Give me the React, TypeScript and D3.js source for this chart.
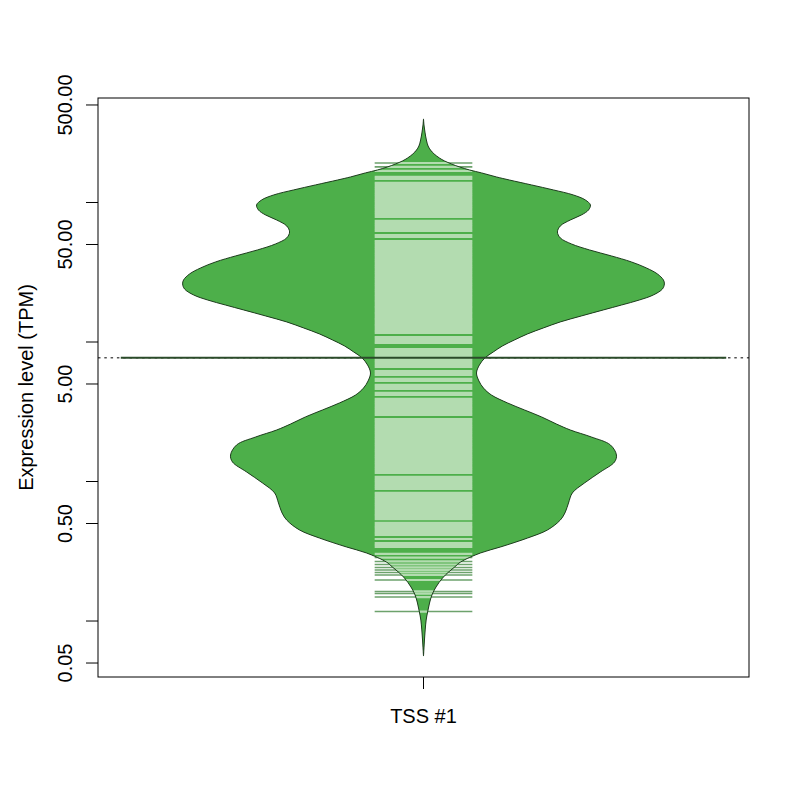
import React from "react";
import * as d3 from "d3";

// ---------- data ----------
const categories = ["TSS #1"];

const yTickValues = [0.05, 0.1, 0.5, 1, 5, 10, 50, 100, 500];
const yTickLabels = ["0.05", "", "0.50", "", "5.00", "", "50.00", "", "500.00"];

// bean outline: log10(TPM) and relative density (1 = widest)
const densityLog10TPM = [
  2.599, 2.556, 2.505, 2.448, 2.405, 2.376, 2.348, 2.319, 2.298, 2.276, 2.255, 2.233, 2.212, 2.183,
  2.161, 2.126, 2.09, 2.054, 2.018, 1.982, 1.946, 1.911, 1.875, 1.832, 1.789, 1.746, 1.703, 1.66,
  1.617, 1.574, 1.531, 1.488, 1.445, 1.416, 1.38, 1.337, 1.301, 1.265, 1.23, 1.187, 1.144, 1.101,
  1.058, 1.015, 0.972, 0.929, 0.886, 0.835, 0.778, 0.721, 0.67, 0.62, 0.563, 0.513, 0.463, 0.412,
  0.369, 0.319, 0.262, 0.19, 0.14, 0.068, -0.011, -0.082, -0.154, -0.218, -0.276, -0.347, -0.405,
  -0.469, -0.512, -0.577, -0.613, -0.649, -0.692, -0.756, -0.813, -0.871, -0.935, -0.993, -1.064,
  -1.136, -1.193, -1.251,
];
const densityRel = [
  0, 0.002, 0.006, 0.012, 0.019, 0.029, 0.044, 0.066, 0.087, 0.116, 0.149, 0.191, 0.241, 0.303,
  0.357, 0.448, 0.539, 0.622, 0.672, 0.693, 0.685, 0.656, 0.61, 0.568, 0.556, 0.568, 0.614, 0.689,
  0.78, 0.863, 0.925, 0.971, 0.996, 1.0, 0.992, 0.954, 0.896, 0.822, 0.747, 0.656, 0.568, 0.498,
  0.432, 0.378, 0.328, 0.29, 0.255, 0.232, 0.22, 0.23, 0.249, 0.282, 0.349, 0.419, 0.49, 0.552,
  0.61, 0.697, 0.776, 0.801, 0.793, 0.734, 0.668, 0.618, 0.602, 0.589, 0.568, 0.515, 0.432,
  0.32, 0.237, 0.154, 0.129, 0.104, 0.079, 0.052, 0.035, 0.025, 0.017, 0.011, 0.007,
  0.004, 0.002, 0,
];

// individual observations (bean lines), log10(TPM)
const beanLinesLog10TPM = [
  2.283, 2.255, 2.226,
  2.183, 2.169, 2.14, 2.126, 2.111, 2.097, 2.083, 2.068, 2.054, 2.04, 2.025, 2.011, 1.997, 1.982,
  1.968, 1.954, 1.939, 1.925, 1.911, 1.896, 1.868, 1.853, 1.839, 1.825, 1.81, 1.796, 1.767, 1.753,
  1.724, 1.71, 1.696, 1.681, 1.667, 1.653, 1.638, 1.624, 1.61, 1.595, 1.581, 1.567, 1.552, 1.538,
  1.524, 1.509, 1.495, 1.481, 1.466, 1.452, 1.438, 1.423, 1.409, 1.395, 1.38, 1.366, 1.352, 1.337,
  1.323, 1.308, 1.294, 1.28, 1.265, 1.251, 1.237, 1.222, 1.208, 1.194, 1.179, 1.165, 1.151, 1.136,
  1.122, 1.108, 1.093, 1.079, 1.065, 1.036, 1.022, 1.007, 0.993, 0.95, 0.936, 0.921, 0.907, 0.893,
  0.878, 0.864, 0.85, 0.835, 0.821, 0.792, 0.778, 0.764, 0.735, 0.721, 0.692, 0.678, 0.663, 0.635,
  0.62, 0.592, 0.577, 0.563, 0.549, 0.534, 0.52, 0.506, 0.491, 0.477, 0.448, 0.434, 0.42, 0.405,
  0.391, 0.377, 0.362, 0.348, 0.334, 0.319, 0.305, 0.291, 0.276, 0.262, 0.248, 0.233, 0.219, 0.205,
  0.19, 0.176, 0.162, 0.147, 0.133, 0.119, 0.104, 0.09, 0.076, 0.061, 0.033, 0.018, 0.004, -0.01,
  -0.025, -0.039, -0.053, -0.082, -0.096, -0.111, -0.125, -0.139, -0.154, -0.168, -0.182, -0.197,
  -0.211, -0.226, -0.24, -0.254, -0.269, -0.297, -0.312, -0.326, -0.34, -0.355, -0.369, -0.383,
  -0.412, -0.441, -0.455, -0.469,
  -0.519, -0.545, -0.573, -0.595, -0.616, -0.634, -0.652, -0.67, -0.706, -0.788, -0.803, -0.828,
  -0.932,
];

const beanMeanTPM = 7.7;
const overallMeanTPM = 7.7;

// ---------- component ----------
export default function App() {
  const W = 800;
  const H = 800;
  const left = 98;
  const right = 749;
  const top = 98;
  const bottom = 677;
  const font = "'Liberation Sans', Arial, Helvetica, sans-serif";
  const fs = 20;

  const x = d3.scaleLinear().domain([0.5, 1.5]).range([left, right]);
  const y = d3.scaleLog().domain([0.0397, 561]).range([bottom, top]);

  const beanHalf = 0.37; // max half width in x units
  const lineHalf = 0.075;
  const meanHalf = 0.465;

  const pts = densityLog10TPM.map((l, i) => ({ v: Math.pow(10, l), d: densityRel[i] }));
  const area = d3
    .area<{ v: number; d: number }>()
    .y((p) => y(p.v))
    .x0((p) => x(1 - p.d * beanHalf))
    .x1((p) => x(1 + p.d * beanHalf))
    .curve(d3.curveCatmullRom.alpha(0.5));
  const beanPath = area(pts) || "";

  const lines = beanLinesLog10TPM.map((l) => Math.pow(10, l));
  const lw = 2.2;

  return (
    <svg
      width={W}
      height={H}
      style={{ position: "absolute", left: 0, top: 0, background: "#fff" }}
      fontFamily={font}
    >
      <defs>
        <clipPath id="beanClip">
          <path d={beanPath} />
        </clipPath>
      </defs>
      <rect x={0} y={0} width={W} height={H} fill="#fff" />

      {/* overall mean dotted line */}
      <line
        x1={left}
        x2={right}
        y1={y(overallMeanTPM)}
        y2={y(overallMeanTPM)}
        stroke="#000"
        strokeWidth={1}
        strokeDasharray="2.5 3.8"
      />

      {/* bean polygon */}
      <path d={beanPath} fill="#4daf4a" stroke="none" />

      {/* bean lines outside the polygon */}
      <g>
        {lines.map((v, i) => (
          <line
            key={"o" + i}
            x1={x(1 - lineHalf)}
            x2={x(1 + lineHalf)}
            y1={y(v)}
            y2={y(v)}
            stroke="#2f7a2d"
            strokeOpacity={0.7}
            strokeWidth={1.6}
          />
        ))}
      </g>
      {/* bean lines inside the polygon */}
      <g clipPath="url(#beanClip)">
        <path d={beanPath} fill="#4daf4a" />
        {lines.map((v, i) => (
          <line
            key={"i" + i}
            x1={x(1 - lineHalf)}
            x2={x(1 + lineHalf)}
            y1={y(v)}
            y2={y(v)}
            stroke="#b3dcb0"
            strokeWidth={lw}
          />
        ))}
      </g>

      {/* bean outline */}
      <path d={beanPath} fill="none" stroke="#1f3d1f" strokeWidth={1} />

      {/* bean mean line */}
      <line
        x1={x(1 - meanHalf)}
        x2={x(1 + meanHalf)}
        y1={y(beanMeanTPM)}
        y2={y(beanMeanTPM)}
        stroke="#2b4b2a"
        strokeWidth={2}
      />

      {/* plot box */}
      <rect
        x={left}
        y={top}
        width={right - left}
        height={bottom - top}
        fill="none"
        stroke="#000"
        strokeWidth={1}
      />

      {/* y axis */}
      {yTickValues.map((t, i) => (
        <g key={"yt" + i}>
          <line x1={left - 12} x2={left} y1={y(t)} y2={y(t)} stroke="#000" strokeWidth={1} />
          {yTickLabels[i] && (
            <text
              transform={`translate(${72},${y(t)}) rotate(-90)`}
              textAnchor="middle"
              fontSize={fs}
              fill="#000"
            >
              {yTickLabels[i]}
            </text>
          )}
        </g>
      ))}
      <text
        transform={`translate(${33},${(top + bottom) / 2}) rotate(-90)`}
        textAnchor="middle"
        fontSize={fs}
        fill="#000"
      >
        Expression level (TPM)
      </text>

      {/* x axis */}
      {categories.map((c, i) => (
        <g key={"xt" + i}>
          <line x1={x(i + 1)} x2={x(i + 1)} y1={bottom} y2={bottom + 12} stroke="#000" strokeWidth={1} />
          <text x={x(i + 1)} y={723} textAnchor="middle" fontSize={fs} fill="#000">
            {c}
          </text>
        </g>
      ))}
    </svg>
  );
}
